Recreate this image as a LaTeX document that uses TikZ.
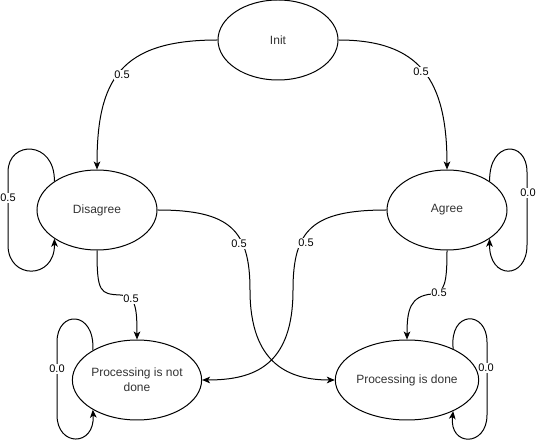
\documentclass[tikz,border=0pt]{standalone}
\usepackage{fontspec}
\setmainfont{Liberation Sans}
\usetikzlibrary{arrows.meta,shapes.geometric}
\begin{document}
\begin{tikzpicture}[x=0.75pt,y=-0.75pt,
  state/.style={ellipse,draw,line width=0.75pt,minimum width=90pt,minimum height=60pt,inner sep=0pt,font=\fontsize{9pt}{11.25pt}\selectfont,text=black!80,align=center},
  edge/.style={line width=0.75pt,-{Stealth[length=6pt,width=5pt,inset=1.6pt]}},
  lbl/.style={fill=white,inner sep=0.5pt,font=\fontsize{8.25pt}{10pt}\selectfont}]
\useasboundingbox (0,0) rectangle (536,441);
\node[state] (init) at (278,40) {Init};
\node[state] (dis) at (97,210) {Disagree};
\node[state] (ag) at (447,210) {Agree};
\node[state] (pnd) at (137,380) {Processing is not\\done};
\node[state] (pd) at (407,380) {Processing is done};
% init edges
\draw[edge] (init.west) .. controls (120,40) and (97,80) .. (dis.north);
\draw[edge] (init.east) .. controls (420,40) and (447,80) .. (ag.north);
% crossing edges
\draw[edge] (dis.east) .. controls (230,210) and (250,230) .. (250,290) .. controls (250,365) and (290,380) .. (pd.west);
\draw[edge] (ag.west) .. controls (312,210) and (293,230) .. (293,290) .. controls (293,365) and (255,380) .. (pnd.east);
% down edges
\draw[edge] (dis.south) .. controls (97,292) and (100,294) .. (120,295) .. controls (135,296) and (137,305) .. (pnd.north);
\draw[edge] (ag.south) .. controls (447,282) and (445,293) .. (432,294) .. controls (410,296) and (407,310) .. (pd.north);
% self loops
\draw[edge] (dis.146) .. controls (55,140) and (8,140) .. (8,172) -- (8,245) .. controls (8,280) and (55,280) .. (dis.214);
\draw[edge] (ag.34) .. controls (489,140) and (527,140) .. (527,172) -- (527,245) .. controls (527,280) and (489,280) .. (ag.326);
\draw[edge] (pnd.146) .. controls (95,310) and (57,310) .. (57,342) -- (57,415) .. controls (57,447) and (95,447) .. (pnd.214);
\draw[edge] (pd.34) .. controls (449,310) and (487,310) .. (487,342) -- (487,415) .. controls (487,447) and (449,447) .. (pd.326);
% labels
\node[lbl] (l1) at (122,75) {0.5};
\node[lbl] (l2) at (421,72) {0.5};
\node[lbl] (l3) at (239,244) {0.5};
\node[lbl] (l4) at (306,243) {0.5};
\node[lbl] (l5) at (131,299) {0.5};
\node[lbl] (l6) at (439,293) {0.5};
\node[lbl] (l7) at (8,198) {0.5};
\node[lbl] (l8) at (528,193) {0.0};
\node[lbl] (l9) at (57,369) {0.0};
\node[lbl] (l10) at (486,368) {0.0};
\end{tikzpicture}
\end{document}
